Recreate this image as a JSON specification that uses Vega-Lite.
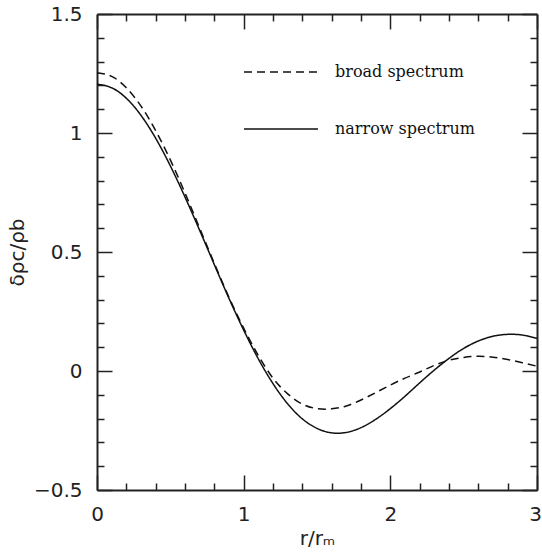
{
  "$schema": "https://vega.github.io/schema/vega-lite/v6.json",
  "width": 440,
  "height": 476,
  "autosize": {"type": "none"},
  "padding": {"left": 97, "top": 14, "right": 5, "bottom": 62},
  "background": "white",
  "config": {
    "view": {"stroke": null},
    "axis": {
      "grid": false,
      "domainColor": "#222",
      "domainWidth": 2,
      "tickColor": "#222",
      "tickWidth": 1.5,
      "tickSize": -15,
      "labelFont": "DejaVu Sans",
      "labelFontSize": 20,
      "labelColor": "#222",
      "titleFont": "DejaVu Sans",
      "titleFontSize": 20,
      "titleFontWeight": "normal",
      "titleColor": "#222"
    }
  },
  "data": {
    "values": [
      {"r": 0.0, "delta": 1.205, "spectrum": "narrow spectrum"},
      {"r": 0.1, "delta": 1.190, "spectrum": "narrow spectrum"},
      {"r": 0.2, "delta": 1.146, "spectrum": "narrow spectrum"},
      {"r": 0.3, "delta": 1.074, "spectrum": "narrow spectrum"},
      {"r": 0.4, "delta": 0.978, "spectrum": "narrow spectrum"},
      {"r": 0.5, "delta": 0.862, "spectrum": "narrow spectrum"},
      {"r": 0.6, "delta": 0.731, "spectrum": "narrow spectrum"},
      {"r": 0.7, "delta": 0.591, "spectrum": "narrow spectrum"},
      {"r": 0.8, "delta": 0.447, "spectrum": "narrow spectrum"},
      {"r": 0.9, "delta": 0.305, "spectrum": "narrow spectrum"},
      {"r": 1.0, "delta": 0.172, "spectrum": "narrow spectrum"},
      {"r": 1.1, "delta": 0.051, "spectrum": "narrow spectrum"},
      {"r": 1.2, "delta": -0.053, "spectrum": "narrow spectrum"},
      {"r": 1.3, "delta": -0.138, "spectrum": "narrow spectrum"},
      {"r": 1.4, "delta": -0.201, "spectrum": "narrow spectrum"},
      {"r": 1.5, "delta": -0.241, "spectrum": "narrow spectrum"},
      {"r": 1.6, "delta": -0.260, "spectrum": "narrow spectrum"},
      {"r": 1.7, "delta": -0.258, "spectrum": "narrow spectrum"},
      {"r": 1.8, "delta": -0.238, "spectrum": "narrow spectrum"},
      {"r": 1.9, "delta": -0.203, "spectrum": "narrow spectrum"},
      {"r": 2.0, "delta": -0.158, "spectrum": "narrow spectrum"},
      {"r": 2.1, "delta": -0.106, "spectrum": "narrow spectrum"},
      {"r": 2.2, "delta": -0.050, "spectrum": "narrow spectrum"},
      {"r": 2.3, "delta": 0.004, "spectrum": "narrow spectrum"},
      {"r": 2.4, "delta": 0.053, "spectrum": "narrow spectrum"},
      {"r": 2.5, "delta": 0.095, "spectrum": "narrow spectrum"},
      {"r": 2.6, "delta": 0.126, "spectrum": "narrow spectrum"},
      {"r": 2.7, "delta": 0.146, "spectrum": "narrow spectrum"},
      {"r": 2.8, "delta": 0.154, "spectrum": "narrow spectrum"},
      {"r": 2.9, "delta": 0.151, "spectrum": "narrow spectrum"},
      {"r": 3.0, "delta": 0.137, "spectrum": "narrow spectrum"},
      {"r": 0.0, "delta": 1.253, "spectrum": "broad spectrum"},
      {"r": 0.1, "delta": 1.238, "spectrum": "broad spectrum"},
      {"r": 0.2, "delta": 1.190, "spectrum": "broad spectrum"},
      {"r": 0.3, "delta": 1.113, "spectrum": "broad spectrum"},
      {"r": 0.4, "delta": 1.010, "spectrum": "broad spectrum"},
      {"r": 0.5, "delta": 0.887, "spectrum": "broad spectrum"},
      {"r": 0.6, "delta": 0.748, "spectrum": "broad spectrum"},
      {"r": 0.7, "delta": 0.600, "spectrum": "broad spectrum"},
      {"r": 0.8, "delta": 0.452, "spectrum": "broad spectrum"},
      {"r": 0.9, "delta": 0.309, "spectrum": "broad spectrum"},
      {"r": 1.0, "delta": 0.180, "spectrum": "broad spectrum"},
      {"r": 1.1, "delta": 0.065, "spectrum": "broad spectrum"},
      {"r": 1.2, "delta": -0.030, "spectrum": "broad spectrum"},
      {"r": 1.3, "delta": -0.096, "spectrum": "broad spectrum"},
      {"r": 1.4, "delta": -0.139, "spectrum": "broad spectrum"},
      {"r": 1.5, "delta": -0.158, "spectrum": "broad spectrum"},
      {"r": 1.6, "delta": -0.159, "spectrum": "broad spectrum"},
      {"r": 1.7, "delta": -0.147, "spectrum": "broad spectrum"},
      {"r": 1.8, "delta": -0.122, "spectrum": "broad spectrum"},
      {"r": 1.9, "delta": -0.091, "spectrum": "broad spectrum"},
      {"r": 2.0, "delta": -0.059, "spectrum": "broad spectrum"},
      {"r": 2.1, "delta": -0.030, "spectrum": "broad spectrum"},
      {"r": 2.2, "delta": -0.004, "spectrum": "broad spectrum"},
      {"r": 2.3, "delta": 0.024, "spectrum": "broad spectrum"},
      {"r": 2.4, "delta": 0.045, "spectrum": "broad spectrum"},
      {"r": 2.5, "delta": 0.057, "spectrum": "broad spectrum"},
      {"r": 2.6, "delta": 0.062, "spectrum": "broad spectrum"},
      {"r": 2.7, "delta": 0.058, "spectrum": "broad spectrum"},
      {"r": 2.8, "delta": 0.048, "spectrum": "broad spectrum"},
      {"r": 2.9, "delta": 0.035, "spectrum": "broad spectrum"},
      {"r": 3.0, "delta": 0.020, "spectrum": "broad spectrum"}
    ]
  },
  "layer": [
    {
      "mark": {"type": "line", "interpolate": "natural", "strokeWidth": 1.5, "color": "#111"},
      "encoding": {
        "x": {
          "field": "r",
          "type": "quantitative",
          "scale": {"domain": [0, 3], "nice": false},
          "axis": {
            "orient": "bottom",
            "title": "r/rₘ",
            "values": [0, 0.2, 0.4, 0.6, 0.8, 1, 1.2, 1.4, 1.6, 1.8, 2, 2.2, 2.4, 2.6, 2.8, 3],
            "tickDash": {"condition": {"test": "abs(datum.value - round(datum.value)) < 0.001", "value": [20, 0]}, "value": [7, 30]},
            "labelExpr": "abs(datum.value - round(datum.value)) < 0.001 ? format(datum.value, '.0f') : ''",
            "labelOffset": {"condition": {"test": "datum.value > 2.9", "value": -2}, "value": 0},
            "labelPadding": 29,
            "labelFlush": false,
            "titlePadding": 4
          }
        },
        "y": {
          "field": "delta",
          "type": "quantitative",
          "scale": {"domain": [-0.5, 1.5], "nice": false},
          "axis": {
            "orient": "left",
            "title": "δρc/ρb",
            "values": [-0.5, -0.4, -0.3, -0.2, -0.1, 0, 0.1, 0.2, 0.3, 0.4, 0.5, 0.6, 0.7, 0.8, 0.9, 1, 1.1, 1.2, 1.3, 1.4, 1.5],
            "tickDash": {"condition": {"test": "abs(datum.value*2 - round(datum.value*2)) < 0.001", "value": [20, 0]}, "value": [7, 30]},
            "labelExpr": "abs(datum.value*2 - round(datum.value*2)) < 0.001 ? format(datum.value, '.1~f') : ''",
            "labelPadding": 30,
            "labelFlush": false,
            "titlePadding": 6
          }
        },
        "strokeDash": {
          "field": "spectrum",
          "type": "nominal",
          "scale": {"domain": ["broad spectrum", "narrow spectrum"], "range": [[8, 5], [1, 0]]},
          "legend": {
            "title": null,
            "orient": "none",
            "legendX": 146,
            "legendY": 48,
            "symbolType": "stroke",
            "symbolSize": 5476,
            "symbolStrokeWidth": 1.5,
            "symbolStrokeColor": "#111",
            "clipHeight": 20,
            "rowPadding": 37,
            "labelOffset": 16,
            "labelFont": "DejaVu Serif",
            "labelFontSize": 16,
            "labelColor": "#111"
          }
        }
      }
    },
    {
      "mark": {"type": "line", "opacity": 0},
      "encoding": {
        "x": {
          "field": "r",
          "type": "quantitative",
          "axis": {
            "orient": "top",
            "title": null,
            "labels": false,
            "values": [0, 0.2, 0.4, 0.6, 0.8, 1, 1.2, 1.4, 1.6, 1.8, 2, 2.2, 2.4, 2.6, 2.8, 3],
            "tickDash": {"condition": {"test": "abs(datum.value - round(datum.value)) < 0.001", "value": [20, 0]}, "value": [7, 30]}
          }
        },
        "y": {
          "field": "delta",
          "type": "quantitative",
          "axis": {
            "orient": "right",
            "title": null,
            "labels": false,
            "values": [-0.5, -0.4, -0.3, -0.2, -0.1, 0, 0.1, 0.2, 0.3, 0.4, 0.5, 0.6, 0.7, 0.8, 0.9, 1, 1.1, 1.2, 1.3, 1.4, 1.5],
            "tickDash": {"condition": {"test": "abs(datum.value*2 - round(datum.value*2)) < 0.001", "value": [20, 0]}, "value": [7, 30]}
          }
        },
        "detail": {"field": "spectrum", "type": "nominal"}
      }
    }
  ],
  "resolve": {"axis": {"x": "independent", "y": "independent"}}
}
